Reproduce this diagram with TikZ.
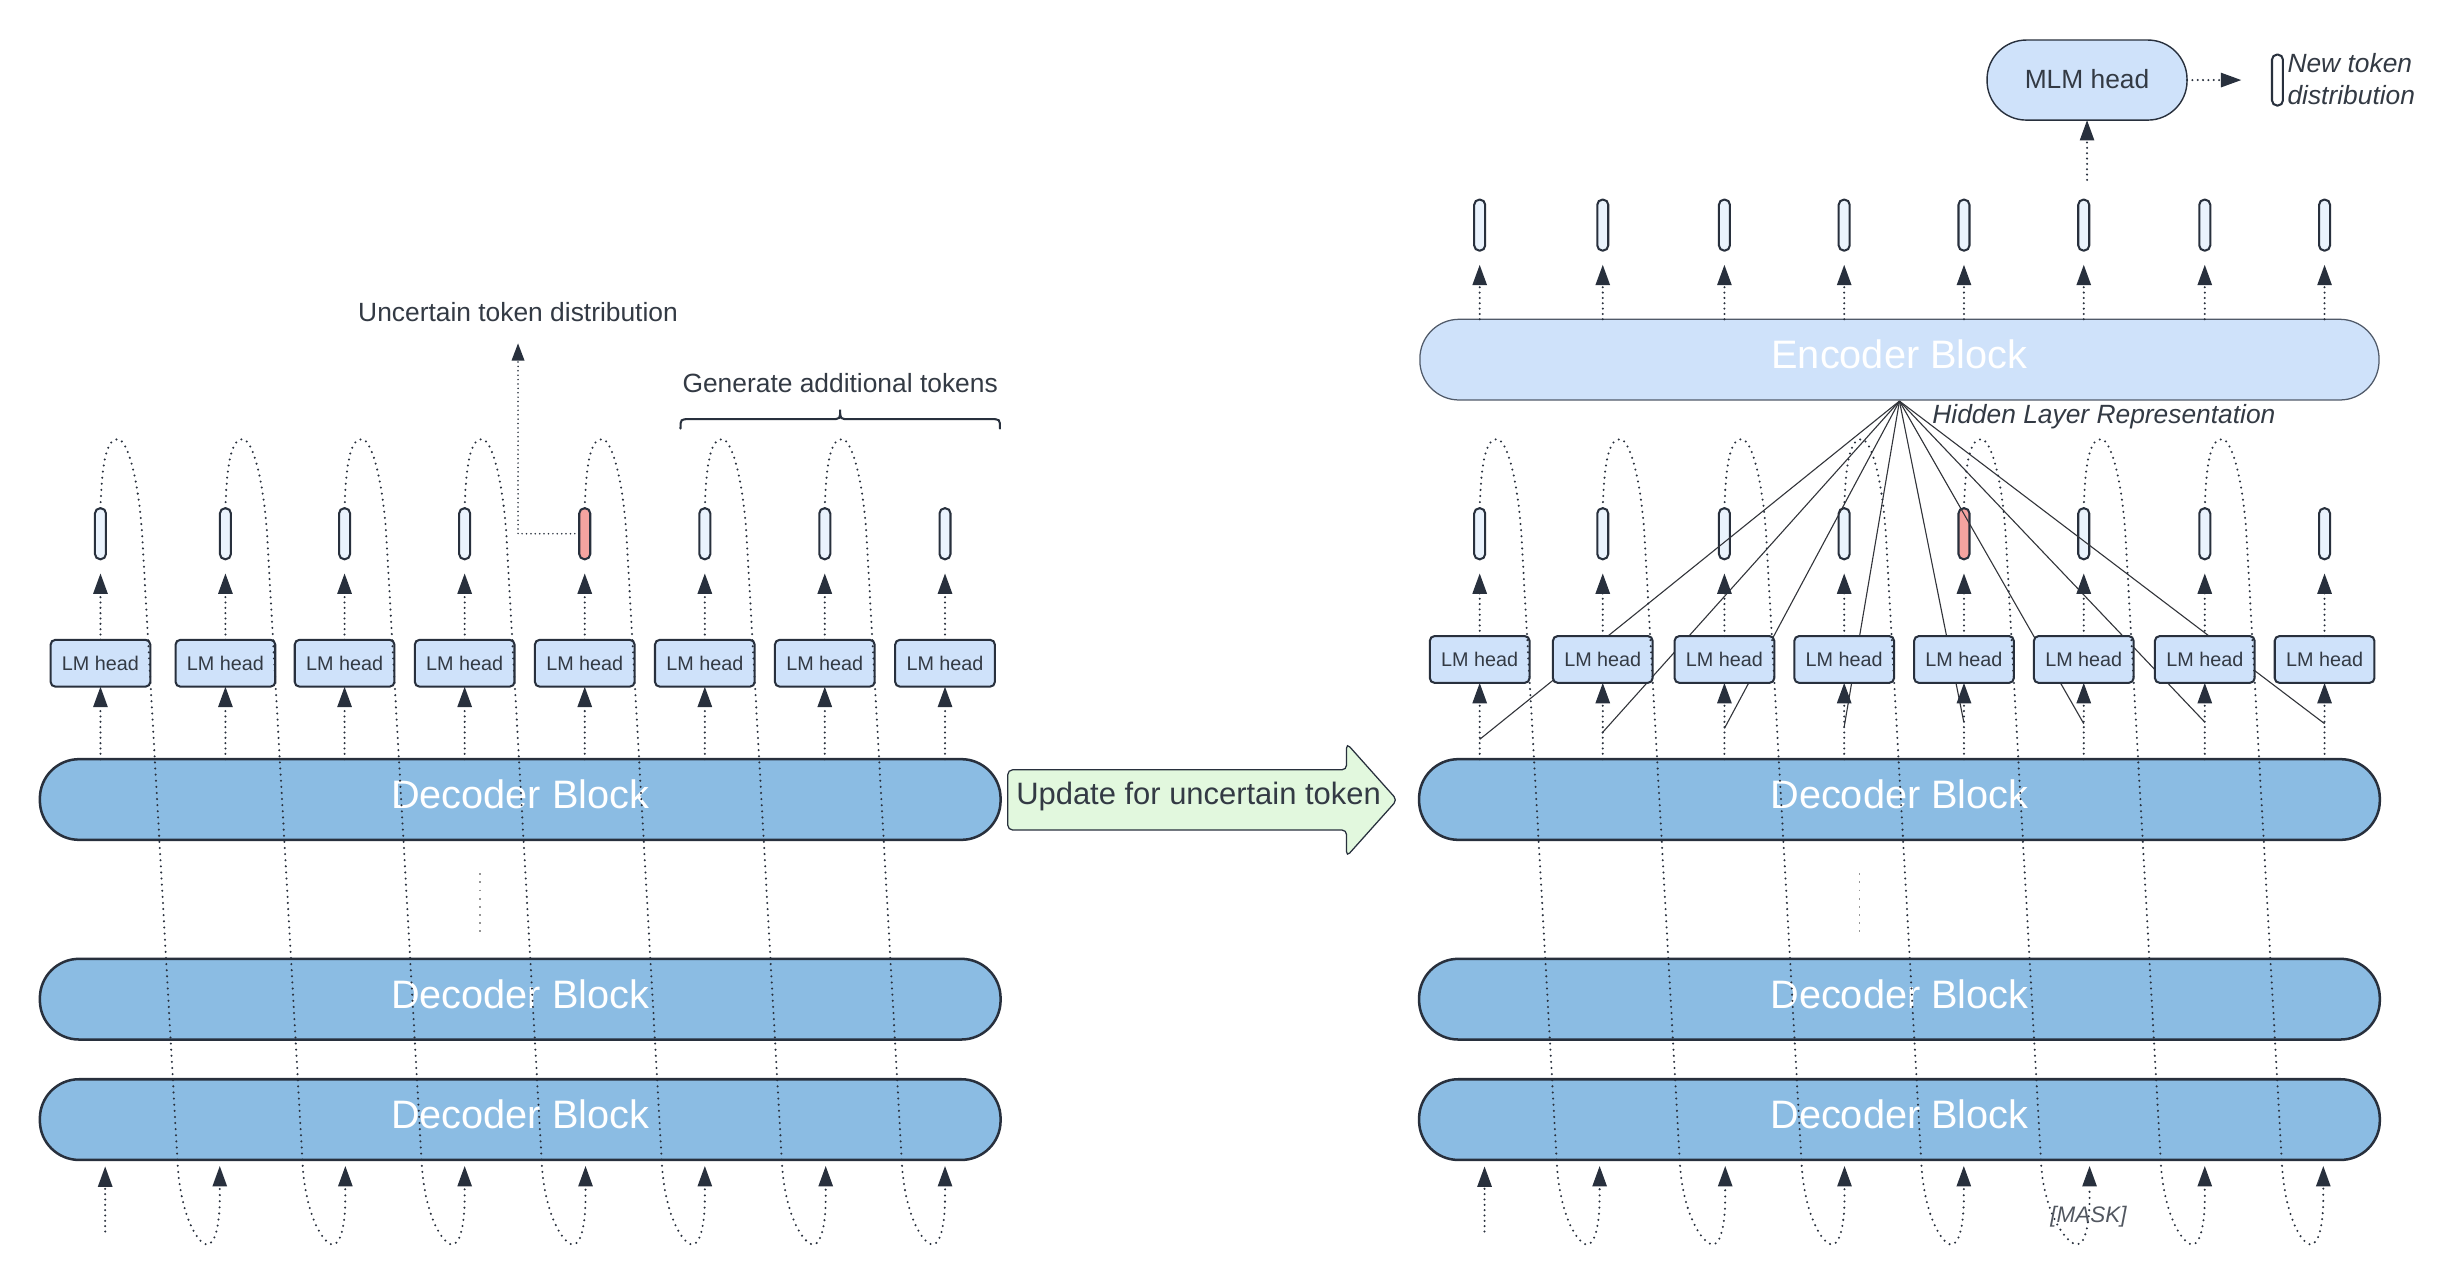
\documentclass[tikz,border=0pt]{standalone}
\usepackage{fontspec}
\setmainfont{Liberation Sans}
\usetikzlibrary{arrows.meta,calc}
\definecolor{dkline}{RGB}{40,48,61}
\definecolor{txt}{RGB}{51,58,68}
\definecolor{decfill}{RGB}{139,188,227}
\definecolor{lightfill}{RGB}{207,226,250}
\definecolor{tokfill}{RGB}{234,243,253}
\definecolor{redfill}{RGB}{244,163,160}
\definecolor{greenfill}{RGB}{226,248,222}
\definecolor{encline}{RGB}{80,90,105}
\definecolor{hidline}{RGB}{50,52,58}
\definecolor{graydash}{RGB}{150,150,150}
\begin{document}
\begin{tikzpicture}[x=1pt,y=-1pt,
  dec/.style={draw=dkline, line width=1.6pt, fill=decfill, rounded corners=25pt,
    minimum width=612pt, minimum height=51.4pt, inner sep=0pt, outer sep=0pt,
    font=\fontsize{25.3}{30}\selectfont, text=white, text depth=6.5pt},
  enc/.style={draw=encline, line width=0.8pt, fill=lightfill, rounded corners=25pt,
    minimum width=611pt, minimum height=51.4pt, inner sep=0pt, outer sep=0pt,
    font=\fontsize{25.3}{30}\selectfont, text=white, text depth=6.5pt},
  mlmbox/.style={draw=dkline, line width=0.9pt, fill=lightfill, rounded corners=25pt,
    minimum width=127.4pt, minimum height=51pt, inner sep=0pt, outer sep=0pt,
    font=\fontsize{16.8}{20}\selectfont, text=txt, text depth=2pt},
  lmh/.style={draw=dkline, line width=1.3pt, fill=lightfill, rounded corners=3pt,
    minimum width=63.5pt, minimum height=29.8pt, inner sep=0pt, outer sep=0pt,
    font=\fontsize{12.6}{15}\selectfont, text=txt},
  tok/.style={draw=dkline, line width=1.3pt, rounded corners=3.3pt,
    minimum width=7pt, minimum height=32.5pt, inner sep=0pt, outer sep=0pt},
  tip/.style={-{Triangle[length=13pt,width=9pt]}},
  dotarrow/.style={draw=dkline, line width=1.45pt, dash pattern=on 0pt off 3.4pt,
    line cap=round, tip},
  loopline/.style={draw=dkline, line width=1.45pt, dash pattern=on 0pt off 3.9pt,
    line cap=round},
  finedot/.style={draw=dkline, line width=1.1pt, dash pattern=on 0pt off 2.8pt,
    line cap=round},
  hid/.style={draw=hidline, line width=0.7pt},
  graydots/.style={draw=graydash, line width=0.9pt, dash pattern=on 1.2pt off 4pt},
  lbl/.style={font=\fontsize{16.8}{20.2}\selectfont, text=txt, inner sep=0pt},
  fb/.pic={\draw[loopline,tip] (0,0)
      .. controls (1,-34) and (5,-44) .. (11,-44)
      .. controls (17,-44) and (24,-20) .. (26.5,16)
      -- (49,415)
      .. controls (50.5,450) and (#1-14,469) .. (#1-8,469)
      .. controls (#1-2,469) and (#1,452) .. (#1,440)
      -- (#1,419);}
]
\useasboundingbox[fill=white] (0,0) rectangle (1569,819.2);

% ---------- blocks ----------
\node[dec] (dLA) at (331.4,509.3) {Decoder Block};
\node[dec] (dLB) at (331.4,636.5) {Decoder Block};
\node[dec] (dLC) at (331.4,713.2) {Decoder Block};
\node[dec] (dRA) at (1210,509.3) {Decoder Block};
\node[dec] (dRB) at (1210,636.5) {Decoder Block};
\node[dec] (dRC) at (1210,713.2) {Decoder Block};
\node[enc] (enc) at (1210,229.1) {Encoder Block};
\node[mlmbox] (mlm) at (1329.5,51) {MLM head};

% ---------- tokens ----------
\foreach \x/\c [count=\i] in {64/tokfill,143.6/tokfill,219.5/tokfill,296/tokfill,372.5/redfill,449/tokfill,525.4/tokfill,602/tokfill}
  \node[tok, fill=\c] (tL\i) at (\x,340) {};
\foreach \x/\c [count=\i] in {942.6/tokfill,1021/tokfill,1098.5/tokfill,1174.8/tokfill,1251.1/redfill,1327.4/tokfill,1404.5/tokfill,1480.8/tokfill}
  \node[tok, fill=\c] (tR\i) at (\x,340) {};
\foreach \x [count=\i] in {942.6,1021,1098.5,1174.8,1251.1,1327.4,1404.5,1480.8}
  \node[tok, fill=tokfill] (tU\i) at (\x,143.4) {};
\node[tok, fill=white] (newtok) at (1450.8,51) {};

% ---------- hidden layer lines ----------
\coordinate (apex) at (1210,255.5);
\foreach \x/\y [count=\i] in {942.6/471,1020.5/467,1098.5/464,1174.8/463,1251/460,1327.4/461,1404.5/460,1480.8/461}{
  \coordinate (hl\i) at (\x,\y);
  \draw[hid] (apex) -- (hl\i);
}

% ---------- LM heads ----------
\foreach \x [count=\i] in {64,143.6,219.5,296,372.5,449,525.4,602}
  \node[lmh] (lL\i) at (\x,422.5) {LM head};
\foreach \x [count=\i] in {942.6,1021,1098.5,1174.8,1251.1,1327.4,1404.5,1480.8}
  \node[lmh] (lR\i) at (\x,420.1) {LM head};

% ---------- vertical arrows ----------
\foreach \i in {1,...,8}{
  \draw[dotarrow] (lL\i.south |- dLA.north) -- (lL\i.south);
  \draw[dotarrow] (lL\i.north) -- ([yshift=-9pt]tL\i.south);
  \draw[dotarrow] (lR\i.south |- dRA.north) -- (lR\i.south);
  \draw[dotarrow] (lR\i.north) -- ([yshift=-9pt]tR\i.south);
  \draw[dotarrow] (tU\i.south |- enc.north) -- ([yshift=-9pt]tU\i.south);
}

% ---------- inputs at position 1 ----------
\coordinate (inLs) at (67,784.5);
\coordinate (inLe) at (67,743);
\draw[dotarrow] (inLs) -- (inLe);
\coordinate (inRs) at (945.7,784.5);
\coordinate (inRe) at (945.7,743);
\draw[dotarrow] (inRs) -- (inRe);

% ---------- autoregressive loops ----------
\pic at (tL1.north) {fb=76};
\pic at (tL2.north) {fb=76.4};
\pic at (tL3.north) {fb=76.5};
\pic at (tL4.north) {fb=77};
\pic at (tL5.north) {fb=76.5};
\pic at (tL6.north) {fb=77};
\pic at (tL7.north) {fb=76.6};
\pic at (tR1.north) {fb=76.4};
\pic at (tR2.north) {fb=78};
\pic at (tR3.north) {fb=76.5};
\pic at (tR4.north) {fb=76.2};
\pic at (tR5.north) {fb=80};
\pic at (tR6.north) {fb=77.1};
\pic at (tR7.north) {fb=75.5};

% ---------- stacked-layer dots ----------
\coordinate (vdL1) at (305.7,556.3);
\coordinate (vdL2) at (305.7,593.4);
\draw[graydots] (vdL1) -- (vdL2);
\coordinate (vdR1) at (1184.7,556.3);
\coordinate (vdR2) at (1184.7,593.4);
\draw[graydots] (vdR1) -- (vdR2);

% ---------- uncertain token ----------
\node[lbl] (unc) at (330,198.5) {Uncertain token distribution};
\coordinate (uncTip) at (330,218.7);
\draw[finedot,-{Triangle[length=11pt,width=8pt]}] (tL5.west) -| (uncTip);

% ---------- brace ----------
\node[lbl] (gen) at (535.2,244) {Generate additional tokens};
\coordinate (brL) at (433.5,273);
\coordinate (brM) at (535.2,261);
\coordinate (brR) at (637,273);
\draw[draw=dkline, line width=1.3pt, line cap=round]
  (brL) .. controls (433.5,267) .. (439.5,267) -- (529.2,267)
  .. controls (535.2,267) .. (brM) .. controls (535.2,267) .. (541.2,267)
  -- (631,267) .. controls (637,267) .. (brR);

% ---------- update arrow ----------
\draw[draw=dkline, line width=0.8pt, fill=greenfill, rounded corners=3pt]
  (642,490.4) -- (857.8,490.4) -- (857.8,473.5) -- (890,509.6)
  -- (857.8,545.6) -- (857.8,528.7) -- (642,528.7) -- cycle;
\node[font=\fontsize{19.7}{23}\selectfont, text=txt, inner sep=0pt] (upd) at (763.5,507.5) {Update for uncertain token};

% ---------- hidden layer label ----------
\node[lbl, font=\fontsize{16.8}{20.2}\selectfont\itshape, anchor=west] (hlr) at (1230.8,265.4) {Hidden Layer Representation};

% ---------- MLM head ----------
\coordinate (mlmIn) at (1329.5,114.6);
\draw[dotarrow] (mlmIn) -- (mlm.south);
\coordinate (newTip) at (1427.8,51);
\draw[dotarrow] (mlm.east) -- (newTip);
\node[lbl, font=\fontsize{16.8}{20.2}\selectfont\itshape, anchor=west, align=left] (ntd) at (1457,50.5) {New token\\distribution};

% ---------- mask ----------
\node[inner sep=0pt, font=\fontsize{14.3}{17}\selectfont\itshape, text=txt!85] (mask) at (1330.4,775) {[MASK]};
\end{tikzpicture}
\end{document}
